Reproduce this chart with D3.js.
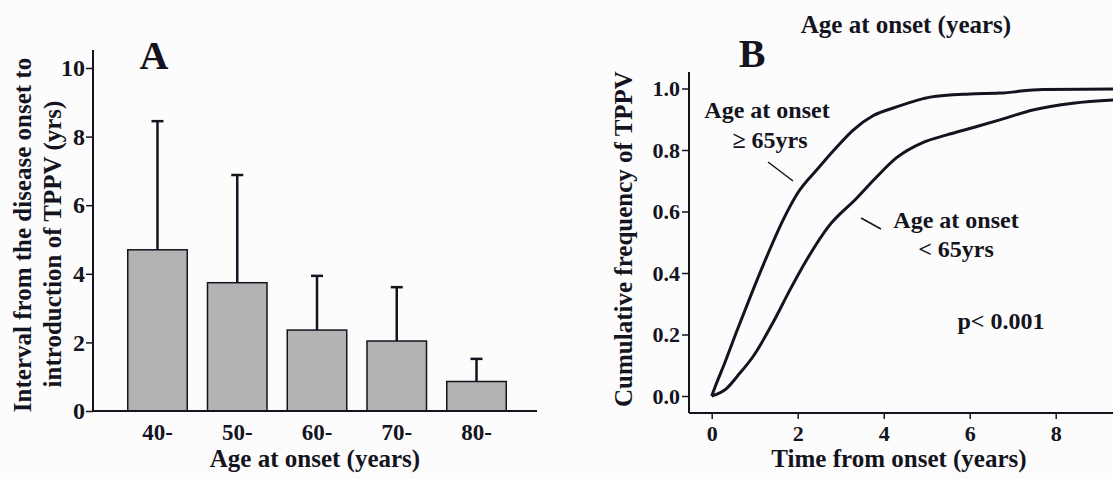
<!DOCTYPE html>
<html><head><meta charset="utf-8">
<script src="https://cdn.jsdelivr.net/npm/d3@7/dist/d3.min.js"></script>
<style>
html,body{margin:0;padding:0;background:#fcfcfc;}
svg{display:block;font-family:"Liberation Serif","Times New Roman",serif;font-weight:bold;}
</style></head>
<body>
<svg id="c" width="1113" height="479"></svg>
<script>
// Panel A data
const ageGroups = ["40-","50-","60-","70-","80-"];
const meanInterval = [4.7, 3.74, 2.36, 2.04, 0.86];
const sdInterval = [3.75, 3.14, 1.58, 1.57, 0.66];
const yTicksA = [0,2,4,6,8,10];

// Panel B data (time in years, cumulative frequency)
const olderTime = [0,0.08,0.31,0.58,0.89,1.28,1.67,2.0,2.44,2.91,3.29,3.76,4.3,4.92,5.08,6.0,6.7,7.7,9.4];
const olderFreq = [0,0.03,0.11,0.21,0.32,0.453,0.575,0.66,0.735,0.81,0.865,0.912,0.94,0.967,0.972,0.982,0.985,0.997,0.998];
const youngerTime = [0,0.35,0.6,0.97,1.43,1.82,2.21,2.71,3.37,3.84,4.3,4.92,5.47,6.0,6.7,7.47,8.4,9.4];
const youngerFreq = [0,0.025,0.065,0.13,0.24,0.345,0.443,0.55,0.643,0.713,0.775,0.825,0.849,0.87,0.898,0.93,0.952,0.963];
const xTicksB = [0,2,4,6,8];
const yTicksB = [0,0.2,0.4,0.6,0.8,1.0];

const svg = d3.select("#c");
const ink = "#141420";
const FF = "Liberation Serif";

// ---------- Panel A ----------
const A = {left:93, right:537, top:50, bottom:411};
const xA = d3.scaleBand().domain(ageGroups).range([108,526]).paddingInner(0.254).paddingOuter(0.2475);
const yA = d3.scaleLinear().domain([0,10]).range([411,68]);
const gA = svg.append("g");

gA.selectAll("rect.bar").data(ageGroups).join("rect")
  .attr("x", d=>xA(d)).attr("width", xA.bandwidth())
  .attr("y", (d,i)=>yA(meanInterval[i])).attr("height",(d,i)=>yA(0)-yA(meanInterval[i]))
  .attr("fill","#b3b3b3").attr("stroke",ink).attr("stroke-width",1.5);

gA.selectAll("line.err").data(ageGroups).join("line")
  .attr("x1", d=>xA(d)+xA.bandwidth()/2).attr("x2", d=>xA(d)+xA.bandwidth()/2)
  .attr("y1",(d,i)=>yA(meanInterval[i])).attr("y2",(d,i)=>yA(meanInterval[i]+sdInterval[i]))
  .attr("stroke",ink).attr("stroke-width",2.5);
gA.selectAll("line.cap").data(ageGroups).join("line")
  .attr("x1", d=>xA(d)+xA.bandwidth()/2-6).attr("x2", d=>xA(d)+xA.bandwidth()/2+6)
  .attr("y1",(d,i)=>yA(meanInterval[i]+sdInterval[i])).attr("y2",(d,i)=>yA(meanInterval[i]+sdInterval[i]))
  .attr("stroke",ink).attr("stroke-width",2.5);

gA.append("line").attr("x1",A.left).attr("x2",A.left).attr("y1",A.top).attr("y2",A.bottom).attr("stroke",ink).attr("stroke-width",2);
gA.append("line").attr("x1",A.left).attr("x2",A.right).attr("y1",A.bottom).attr("y2",A.bottom).attr("stroke",ink).attr("stroke-width",2);

const axYA = gA.append("g").attr("transform",`translate(${A.left},0)`)
  .call(d3.axisLeft(yA).tickValues(yTicksA).tickSize(7).tickPadding(1).tickFormat(d3.format("d")));
axYA.select(".domain").remove();
axYA.selectAll("line").attr("stroke",ink).attr("stroke-width",1.5);
axYA.selectAll("text").attr("font-family",FF).attr("font-weight","bold").attr("font-size",24).attr("fill",ink);

const axXA = gA.append("g").attr("transform",`translate(0,${A.bottom})`)
  .call(d3.axisBottom(xA).tickSize(0).tickPadding(13));
axXA.select(".domain").remove();
axXA.selectAll("text").attr("font-family",FF).attr("font-weight","bold").attr("font-size",23).attr("fill",ink);

gA.append("text").attr("x",315).attr("y",467).attr("text-anchor","middle").attr("font-size",25).attr("fill",ink).text("Age at onset (years)");
gA.append("text").attr("transform","translate(31,235) rotate(-90)").attr("text-anchor","middle").attr("font-size",25).attr("fill",ink).text("Interval from the disease onset to");
gA.append("text").attr("transform","translate(61,244) rotate(-90)").attr("text-anchor","middle").attr("font-size",25).attr("fill",ink).text("introduction of TPPV (yrs)");
gA.append("text").attr("x",154).attr("y",69).attr("text-anchor","middle").attr("font-size",40).attr("fill",ink).text("A");

// ---------- Panel B ----------
const B = {left:689, right:1113, top:72, bottom:413};
const xB = d3.scaleLinear().domain([0,10]).range([711.7,1141.7]);
const yB = d3.scaleLinear().domain([0,1]).range([396,88.5]);
const gB = svg.append("g");

gB.append("line").attr("x1",B.left).attr("x2",B.left).attr("y1",B.top).attr("y2",B.bottom).attr("stroke",ink).attr("stroke-width",2);
gB.append("line").attr("x1",B.left).attr("x2",B.right).attr("y1",B.bottom).attr("y2",B.bottom).attr("stroke",ink).attr("stroke-width",2);

const axYB = gB.append("g").attr("transform",`translate(${B.left},0)`)
  .call(d3.axisLeft(yB).tickValues(yTicksB).tickSize(7).tickPadding(2).tickFormat(d3.format(".1f")));
axYB.select(".domain").remove();
axYB.selectAll("line").attr("stroke",ink).attr("stroke-width",1.5);
axYB.selectAll("text").attr("font-family",FF).attr("font-weight","bold").attr("font-size",22).attr("fill",ink);

const axXB = gB.append("g").attr("transform",`translate(0,${B.bottom})`)
  .call(d3.axisBottom(xB).tickValues(xTicksB).tickSize(6).tickPadding(6).tickFormat(d3.format("d")));
axXB.select(".domain").remove();
axXB.selectAll("line").attr("stroke",ink).attr("stroke-width",1.5);
axXB.selectAll("text").attr("font-family",FF).attr("font-weight","bold").attr("font-size",22).attr("fill",ink);

svg.append("clipPath").attr("id","clipB").append("rect").attr("x",B.left).attr("y",0).attr("width",B.right-B.left).attr("height",B.bottom);
const lineGen = d3.line().x(d=>xB(d[0])).y(d=>yB(d[1])).curve(d3.curveMonotoneX);
gB.append("path").datum(d3.zip(olderTime, olderFreq)).attr("d", lineGen)
  .attr("fill","none").attr("stroke",ink).attr("stroke-width",3).attr("stroke-linejoin","round").attr("clip-path","url(#clipB)");
gB.append("path").datum(d3.zip(youngerTime, youngerFreq)).attr("d", lineGen)
  .attr("fill","none").attr("stroke",ink).attr("stroke-width",3).attr("stroke-linejoin","round").attr("clip-path","url(#clipB)");

gB.append("text").attr("x",899).attr("y",467).attr("text-anchor","middle").attr("font-size",25).attr("fill",ink).text("Time from onset (years)");
gB.append("text").attr("transform","translate(632,239) rotate(-90)").attr("text-anchor","middle").attr("font-size",25).attr("fill",ink).text("Cumulative frequency of TPPV");
gB.append("text").attr("x",906).attr("y",33).attr("text-anchor","middle").attr("font-size",25).attr("fill",ink).text("Age at onset (years)");
gB.append("text").attr("x",752).attr("y",67).attr("text-anchor","middle").attr("font-size",40).attr("fill",ink).text("B");

gB.append("text").attr("x",767).attr("y",118).attr("text-anchor","middle").attr("font-size",24).attr("fill",ink).text("Age at onset");
gB.append("text").attr("x",770).attr("y",148).attr("text-anchor","middle").attr("font-size",24).attr("fill",ink).text("\u2265 65yrs");
gB.append("line").attr("x1",768).attr("y1",162).attr("x2",793).attr("y2",181).attr("stroke",ink).attr("stroke-width",1.5);

gB.append("text").attr("x",956).attr("y",228).attr("text-anchor","middle").attr("font-size",24).attr("fill",ink).text("Age at onset");
gB.append("text").attr("x",956).attr("y",257).attr("text-anchor","middle").attr("font-size",24).attr("fill",ink).text("< 65yrs");
gB.append("line").attr("x1",861).attr("y1",218).attr("x2",881).attr("y2",229).attr("stroke",ink).attr("stroke-width",1.5);

gB.append("text").attr("x",1001).attr("y",329).attr("text-anchor","middle").attr("font-size",24).attr("fill",ink).text("p< 0.001");
</script>
</body></html>
